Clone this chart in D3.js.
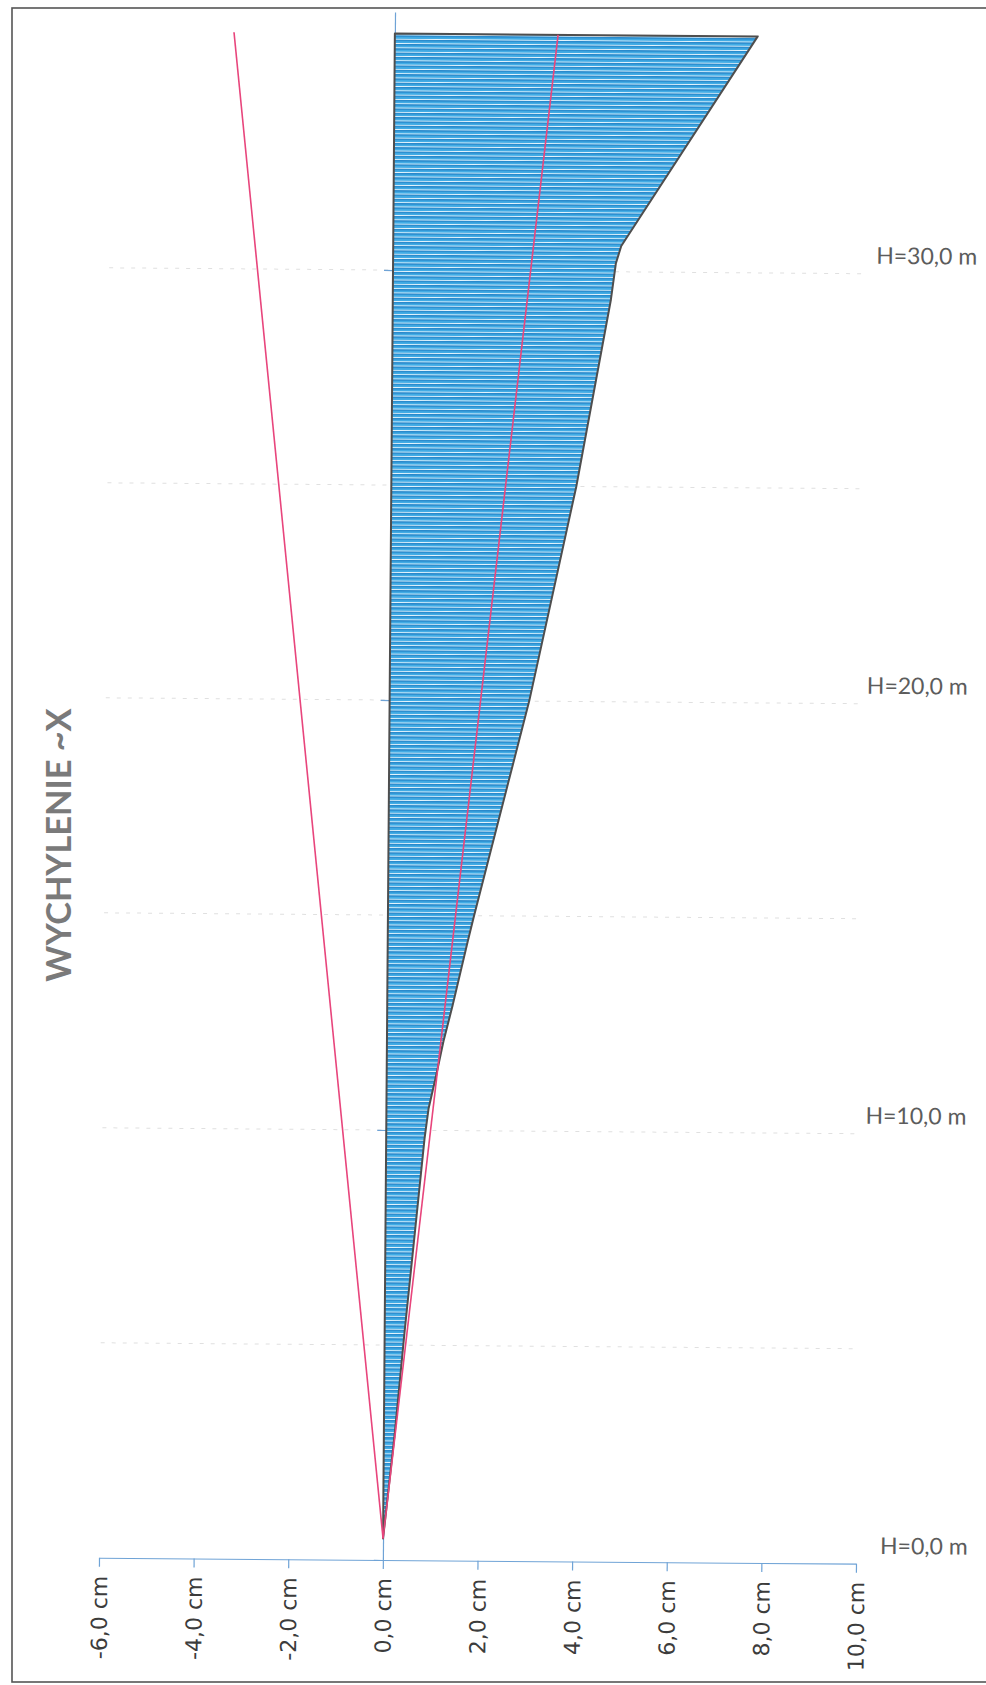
<!DOCTYPE html>
<html><head><meta charset="utf-8">
<script src="https://cdn.jsdelivr.net/npm/d3@7"></script>
<style>
html,body{margin:0;padding:0;background:#fff;}
svg{display:block;}
</style></head><body>
<svg id="chart" width="986" height="1685"></svg>
<script>
// ---- data ----
const heights    = [0.5, 2.95, 5.3, 7.6, 9.8, 10.5, 11.3, 12.1, 12.9, 14.4, 15.0, 20.0, 25.0, 29.35, 30.2, 30.6, 35.5];
const deflection = [0.0, 0.23, 0.42, 0.62, 0.81, 0.89, 1.05, 1.20, 1.38, 1.69, 1.82, 2.95, 3.91, 4.61, 4.71, 4.82, 7.67];
const limitHeights = [0.5, 35.5];
const limitPos = [0, 3.45];
const limitNeg = [0, -3.4];
const xTicks = [-6, -4, -2, 0, 2, 4, 6, 8, 10];
const xTickLabels = ["-6,0 cm", "-4,0 cm", "-2,0 cm", "0,0 cm", "2,0 cm", "4,0 cm", "6,0 cm", "8,0 cm", "10,0 cm"];
const yTicks = [0, 10, 20, 30];
const gridHeights = [5, 10, 15, 20, 25, 30];
const hLabels = ["H=0,0 m", "H=10,0 m", "H=20,0 m", "H=30,0 m"];
const hLabelHeights = [0, 10, 20, 30];
const chartTitle = "WYCHYLENIE ~X";

// ---- layout / style ----
const hLabelLeft = [880, 862, 860, 866];
const svg = d3.select("#chart");
const x = d3.scaleLinear().domain([-6, 10]).range([99, 856]);
const y = d3.scaleLinear().domain([0, 36]).range([1560, 12]);
const scanTilt = 0.45; // the scanned sheet is slightly rotated

// page frame
svg.append("rect").attr("x", 12).attr("y", 8).attr("width", 990).attr("height", 1674)
  .attr("fill", "none").attr("stroke", "#555").attr("stroke-width", 1.6);

const g = svg.append("g").attr("transform", `rotate(${scanTilt},${x(0)},${y(0)})`);

// stripe pattern: one horizontal bar every 0.1 m
const period = y(0) - y(0.1);
const defs = svg.append("defs");
const pat = defs.append("pattern").attr("id", "stripes")
  .attr("patternUnits", "userSpaceOnUse").attr("width", 20).attr("height", period);
pat.append("rect").attr("width", 20).attr("height", period).attr("fill", "#42ace5");
pat.append("rect").attr("y", 0).attr("width", 20).attr("height", 1.0).attr("fill", "#e6f4fc");
pat.append("rect").attr("y", 1.0).attr("width", 20).attr("height", 1.2).attr("fill", "#1f80c6");

// gridlines
g.append("g").selectAll("line").data(gridHeights).join("line")
  .attr("x1", x(-6)).attr("x2", x(10))
  .attr("y1", d => y(d)).attr("y2", d => y(d))
  .attr("stroke", "#e0e0e0").attr("stroke-width", 1).attr("stroke-dasharray", "4,7");

// axes
const xAxis = g.append("g").attr("transform", `translate(0,${y(0)})`)
  .call(d3.axisBottom(x).tickValues(xTicks).tickFormat((d, i) => xTickLabels[i]).tickSize(9).tickSizeOuter(0));
xAxis.select(".domain").attr("stroke", "#6fa3d6").attr("stroke-width", 1.2);
xAxis.selectAll(".tick line").attr("stroke", "#6fa3d6").attr("stroke-width", 1.2);
xAxis.selectAll(".tick text")
  .attr("transform", "rotate(-90)").attr("x", -18).attr("y", 0).attr("dy", "0.36em")
  .attr("text-anchor", "end")
  .style("font-family", "'DejaVu Sans', sans-serif").style("font-size", "22px").attr("fill", "#3c3c3c");

const yAxis = g.append("g").attr("transform", `translate(${x(0)},0)`)
  .call(d3.axisLeft(y).tickValues(yTicks).tickFormat("").tickSize(9).tickSizeOuter(0));
yAxis.select(".domain").attr("stroke", "#6fa3d6").attr("stroke-width", 1.2);
yAxis.selectAll(".tick line").attr("stroke", "#6fa3d6").attr("stroke-width", 1.2);

// deflection area
const pts = heights.map((h, i) => ({ h, v: deflection[i] }));
const area = d3.area().x0(x(0)).x1(d => x(d.v)).y(d => y(d.h));
g.append("path").datum(pts).attr("d", area)
  .attr("fill", "url(#stripes)").attr("stroke", "#4e4e4e").attr("stroke-width", 2)
  .attr("stroke-linejoin", "round");

// limit lines
const line = d3.line().x(d => x(d.v)).y(d => y(d.h));
[limitPos, limitNeg].forEach(vals => {
  g.append("path").datum(limitHeights.map((h, i) => ({ h, v: vals[i] })))
    .attr("d", line).attr("fill", "none").attr("stroke", "#e8457c").attr("stroke-width", 1.6);
});

// height labels
g.append("g").selectAll("text").data(hLabels).join("text")
  .attr("x", (d, i) => hLabelLeft[i]).attr("y", (d, i) => y(hLabelHeights[i]) - 19)
  .attr("dominant-baseline", "central")
  .style("font-family", "Lato, 'Open Sans', sans-serif").style("font-size", "23px")
  .attr("fill", "#5c5c5c").text(d => d);

// title
const t = svg.append("text").attr("transform", "translate(57,845) rotate(-90)")
  .attr("text-anchor", "middle").attr("dominant-baseline", "central")
  .style("font-family", "Lato, sans-serif").style("font-weight", "bold").style("font-size", "34px")
  .attr("fill", "#7a7a7a").text(chartTitle);
const len = t.node().getComputedTextLength();
t.style("font-size", (34 * 273 / len).toFixed(1) + "px");
</script>
</body></html>
